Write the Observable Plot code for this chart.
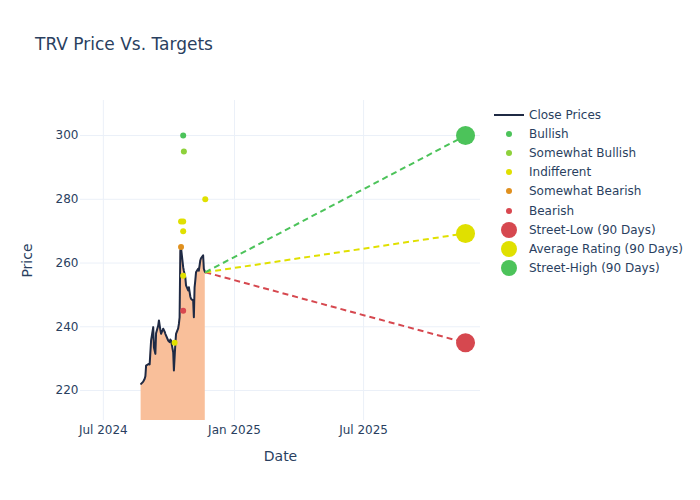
<!DOCTYPE html>
<html>
<head>
<meta charset="utf-8">
<script src="https://cdn.jsdelivr.net/npm/d3@7"></script>
<script src="https://cdn.jsdelivr.net/npm/@observablehq/plot@0.6"></script>
<style>
  html, body { margin: 0; padding: 0; background: #fff; }
  #wrap { position: relative; width: 700px; height: 500px; font-family: "DejaVu Sans", sans-serif; color: #2a3f5f; }
  #title { position: absolute; left: 35px; top: 34px; font-size: 17px; color: #2a3f5f; white-space: nowrap; }
  #legend { position: absolute; left: 494px; top: 105px; font-size: 12px; color: #2a3f5f; }
  .row { display: flex; align-items: center; height: 19.2px; white-space: nowrap; }
  .row svg { flex: none; margin-right: 5px; }
  #chart svg [aria-label="x-axis label"] text, #chart svg [aria-label="y-axis label"] text { font-size: 14px; }
</style>
</head>
<body>
<div id="wrap">
  <div id="chart"></div>
  <div id="title">TRV Price Vs. Targets</div>
  <div id="legend"></div>
</div>
<script>
// ---- data ----
const closeDates = [
  "2024-08-23","2024-08-26","2024-08-28","2024-08-29","2024-08-30","2024-09-03","2024-09-04","2024-09-06",
  "2024-09-09","2024-09-10","2024-09-12","2024-09-13","2024-09-16","2024-09-17","2024-09-19","2024-09-20",
  "2024-09-23","2024-09-25","2024-09-26","2024-09-30","2024-10-02","2024-10-03","2024-10-04","2024-10-07",
  "2024-10-08","2024-10-10","2024-10-11","2024-10-14","2024-10-15","2024-10-16","2024-10-17","2024-10-18",
  "2024-10-21","2024-10-22","2024-10-24","2024-10-25","2024-10-28","2024-10-29","2024-10-31","2024-11-01",
  "2024-11-04","2024-11-05","2024-11-06","2024-11-07","2024-11-08","2024-11-11","2024-11-12","2024-11-14",
  "2024-11-15","2024-11-18","2024-11-19","2024-11-20","2024-11-21"
];
const closePrices = [
  222.1, 222.8, 223.7, 224.5, 227.8, 228.4, 228.2, 235.7,
  239.9, 233.5, 231.5, 238.0, 240.4, 242.0, 239.0, 237.8,
  239.4, 238.5, 237.8, 235.7, 235.2, 236.0, 235.7, 232.0,
  226.3, 234.6, 237.8, 239.5, 240.9, 243.0, 263.9, 264.8,
  258.7, 257.5, 255.5, 253.0, 251.4, 252.4, 249.5, 248.8,
  248.2, 243.0, 252.4, 254.5, 257.1, 258.2, 257.6, 260.8,
  261.5, 262.4, 258.2, 257.5, 257.1
];

const ratingDates  = ["2024-10-21","2024-10-22","2024-11-21","2024-10-18","2024-10-21","2024-10-21","2024-10-18","2024-10-21","2024-10-21","2024-10-09"];
const ratingPrices = [300, 295, 280, 273, 273, 270, 265, 256, 245, 235];
const ratingTypes  = ["Bullish","Somewhat Bullish","Indifferent","Indifferent","Indifferent","Indifferent","Somewhat Bearish","Indifferent","Bearish","Indifferent"];

const ratingCategories = ["Bullish","Somewhat Bullish","Indifferent","Somewhat Bearish","Bearish"];
const ratingColors     = ["#4cc35a","#8ed13b","#e0e000","#e0901e","#d9474f"];

const targetLabels = ["Street-Low (90 Days)","Average Rating (90 Days)","Street-High (90 Days)"];
const targetPrices = [235, 269.3, 300];
const targetColors = ["#d6484f","#e0e000","#4cc35a"];
const targetDate = "2025-11-21";

const xTickDates = ["2024-07-01","2025-01-01","2025-07-01"];
const yTicks = [220, 240, 260, 280, 300];
const xDomain = ["2024-05-30","2025-12-12"];
const yDomain = [210.6, 311];

// ---- build tables ----
const closeData = closeDates.map((d, i) => ({date: new Date(d), price: closePrices[i]}));
const ratings = ratingDates.map((d, i) => ({date: new Date(d), price: ratingPrices[i], type: ratingTypes[i]}));
const colorOf = t => ratingColors[ratingCategories.indexOf(t)];
const last = closeData[closeData.length - 1];
const targets = targetLabels.map((l, i) => ({label: l, price: targetPrices[i], color: targetColors[i], date: new Date(targetDate)}));
const xTicks = xTickDates.map(d => new Date(d));
const fmt = d3.utcFormat("%b %Y");

const chart = Plot.plot({
  width: 700,
  height: 500,
  marginLeft: 80,
  marginRight: 220,
  marginTop: 100,
  marginBottom: 80,
  style: {fontFamily: "DejaVu Sans, sans-serif", fontSize: "12px", color: "#2a3f5f", background: "transparent"},
  x: {type: "utc", domain: xDomain.map(d => new Date(d))},
  y: {domain: yDomain},
  marks: [
    Plot.gridX(xTicks, {stroke: "#ebf0f8", strokeOpacity: 1}),
    Plot.gridY(yTicks, {stroke: "#ebf0f8", strokeOpacity: 1}),
    Plot.areaY(closeData, {x: "date", y1: 0, y2: "price", fill: "#f9bf9a", fillOpacity: 1, clip: true}),
    Plot.line(closeData, {x: "date", y: "price", stroke: "#1f2a44", strokeWidth: 2}),
    Plot.link(targets, {x1: () => last.date, y1: () => last.price, x2: "date", y2: "price", stroke: "color", strokeWidth: 2, strokeDasharray: "6,4"}),
    Plot.dot(ratings, {x: "date", y: "price", r: 3, fill: d => colorOf(d.type)}),
    Plot.dot(targets, {x: "date", y: "price", r: 9.5, fill: "color"}),
    Plot.axisX(xTicks, {tickSize: 0, tickPadding: 5, tickFormat: fmt, label: "Date", labelAnchor: "center", labelArrow: "none", labelOffset: 40}),
    Plot.axisY(yTicks, {tickSize: 0, tickPadding: 2, label: "Price", labelAnchor: "center", labelArrow: "none", labelOffset: 58})
  ]
});
document.getElementById("chart").appendChild(chart);

// ---- legend ----
const legend = document.getElementById("legend");
function row(swatch, text) {
  const r = document.createElement("div");
  r.className = "row";
  r.innerHTML = swatch + "<span>" + text + "</span>";
  legend.appendChild(r);
}
row('<svg width="30" height="12"><line x1="0" y1="6" x2="30" y2="6" stroke="#1f2a44" stroke-width="2"/></svg>', "Close Prices");
ratingCategories.forEach((c, i) => row('<svg width="30" height="12"><circle cx="15" cy="6" r="3" fill="' + ratingColors[i] + '"/></svg>', c));
targetLabels.forEach((l, i) => row('<svg width="30" height="18"><circle cx="15" cy="9" r="8" fill="' + targetColors[i] + '"/></svg>', l));
</script>
</body>
</html>
